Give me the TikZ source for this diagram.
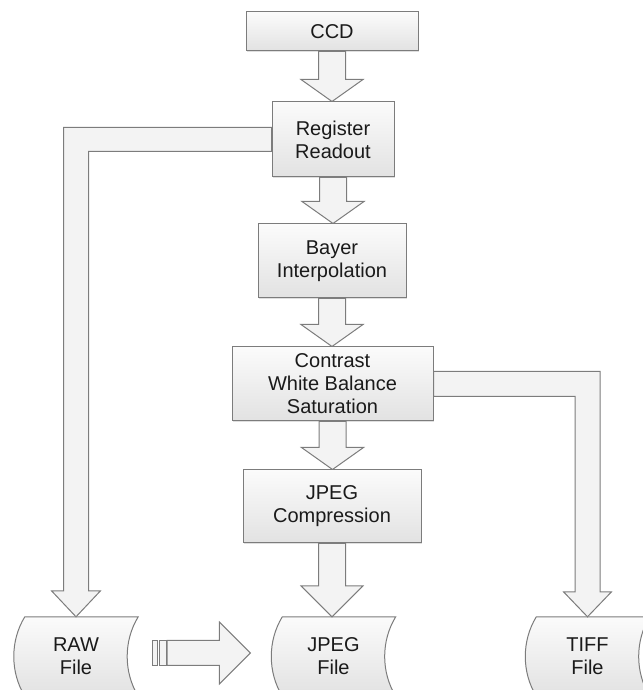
\documentclass[tikz,border=0pt]{standalone}
\usepackage{fontspec}
\setmainfont{Liberation Sans}
\usetikzlibrary{calc,shadows,backgrounds}
\definecolor{edge}{HTML}{7C7C7C}
\definecolor{boxtop}{HTML}{FBFBFB}
\definecolor{boxbot}{HTML}{E2E2E2}
\definecolor{arrowfill}{HTML}{F3F3F3}
\definecolor{txt}{HTML}{1A1A1A}

% vertical block arrow from #1.south to #2.north, head length #3
\newcommand\vconn[3]{%
  \draw[barrow] let \p1=(#1.south), \p2=(#2.north) in
    (\x1-13.5,\y1) -- (\x1-13.5,\y2+#3) -- (\x1-31,\y2+#3) -- (\x1,\y2)
    -- (\x1+31,\y2+#3) -- (\x1+13.5,\y2+#3) -- (\x1+13.5,\y1) -- cycle;}
% stored-data outline around a file node
\newcommand\filebox[1]{%
  \draw[filestyle] let \p1=(#1.north west), \p2=(#1.south east) in
    (\x1+11,\y1) -- (\x2,\y1)
    .. controls (\x2-14.7,\y1-24) and (\x2-14.7,\y2+24) .. (\x2,\y2)
    -- (\x1+11,\y2)
    .. controls (\x1-3.7,\y2+24) and (\x1-3.7,\y1-24) .. cycle;}

\begin{document}
\begin{tikzpicture}[x=1pt,y=1pt,
  proc/.style={draw=edge, line width=1pt, top color=boxtop, bottom color=boxbot,
    align=center, font=\fontsize{20}{23}\selectfont, text=txt, inner sep=0pt,
    drop shadow={shadow xshift=1.2pt, shadow yshift=-1.2pt, opacity=0.25, fill=black!50}},
  filenode/.style={align=center, font=\fontsize{20}{23}\selectfont, text=txt,
    inner sep=0pt, minimum width=124, minimum height=79},
  filestyle/.style={draw=edge, line width=1pt, top color=boxtop, bottom color=boxbot},
  barrow/.style={draw=edge, line width=1pt, fill=arrowfill, line join=miter}]
\useasboundingbox (0,0) rectangle (642,690);
\clip (0,0) rectangle (642,690);

% processing stages
\node[proc, minimum width=172, minimum height=39] (ccd) at (332,658.5) {CCD};
\node[proc, minimum width=122, minimum height=75] (reg) at (333,550.5) {Register\\Readout};
\node[proc, minimum width=148, minimum height=74] (bay) at (332,429) {Bayer\\Interpolation};
\node[proc, minimum width=201, minimum height=74] (con) at (332.5,306) {Contrast\\White Balance\\Saturation};
\node[proc, minimum width=178, minimum height=73] (jpc) at (332,183.5) {JPEG\\Compression};

% output files
\node[filenode] (raw) at (76,33.5) {RAW\\File};
\node[filenode] (jpf) at (333.5,33.5) {JPEG\\File};
\node[filenode] (tif) at (587.5,33.5) {TIFF\\File};

\begin{scope}[on background layer]
  \filebox{raw}
  \filebox{jpf}
  \filebox{tif}

  \vconn{ccd}{reg}{22}
  \vconn{reg}{bay}{22}
  \vconn{bay}{con}{22}
  \vconn{con}{jpc}{22}
  \vconn{jpc}{jpf}{31}

  % raw data branch
  \draw[barrow] let \p1=(reg.west), \p2=(raw.north) in
    (\x1,\y1+12) -- (\x2-12.5,\y1+12) -- (\x2-12.5,\y2+26) -- (\x2-24.5,\y2+26)
    -- (\x2,\y2) -- (\x2+24.5,\y2+26) -- (\x2+12.5,\y2+26) -- (\x2+12.5,\y1-12)
    -- (\x1,\y1-12) -- cycle;

  % tiff branch
  \draw[barrow] let \p1=(con.east), \p2=(tif.north) in
    (\x1,\y1+12.5) -- (\x2+12.5,\y1+12.5) -- (\x2+12.5,\y2+25) -- (\x2+24,\y2+25)
    -- (\x2,\y2) -- (\x2-24,\y2+25) -- (\x2-12.5,\y2+25) -- (\x2-12.5,\y1-12.5)
    -- (\x1,\y1-12.5) -- cycle;

  % striped conversion arrow
  \draw[barrow] let \p1=(raw.east), \p2=(jpf.west) in
    (\x1+14,\y1-9) rectangle (\x1+19,\y1+16);
  \draw[barrow] let \p1=(raw.east), \p2=(jpf.west) in
    (\x1+21,\y1-9) rectangle (\x1+28,\y1+16);
  \draw[barrow] let \p1=(raw.east), \p2=(jpf.west) in
    (\x1+29,\y1-9) -- (\x2-52,\y1-9) -- (\x2-52,\y1-27.5) -- (\x2-21,\y1+3.5)
    -- (\x2-52,\y1+34.5) -- (\x2-52,\y1+16) -- (\x1+29,\y1+16) -- cycle;
\end{scope}
\end{tikzpicture}
\end{document}
